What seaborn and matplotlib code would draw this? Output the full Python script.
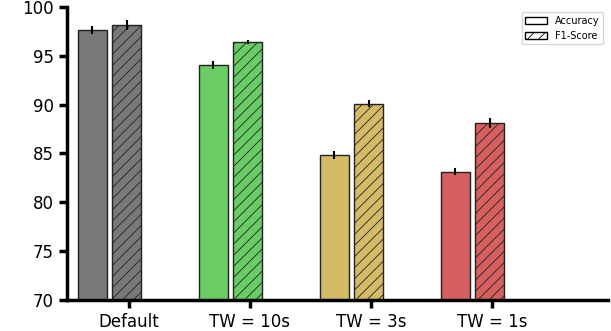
import seaborn as sns
import pandas as pd
import matplotlib.pyplot as plt
import numpy as np
from matplotlib.patches import Patch

settings = ["Default", "TW = 10s", "TW = 3s", "TW = 1s"]
accuracy = [97.65, 94.06, 84.82, 83.14]
accuracy_err = [0.45, 0.4, 0.4, 0.4]
f1_score = [98.18, 96.42, 90.07, 88.12]
f1_err = [0.5, 0.2, 0.35, 0.55]
colors = ['#797979', '#6acc64', '#d5bb67', '#d65f5f']

sns.set_style("ticks")
plt.rcParams['hatch.linewidth'] = 0.6
plt.rcParams['text.color'] = 'black'

df = pd.DataFrame({
    "setting": settings * 2,
    "metric": ["Accuracy"] * 4 + ["F1-Score"] * 4,
    "value": accuracy + f1_score,
})

fig, ax = plt.subplots(figsize=(6.11, 3.31), dpi=100)
sns.barplot(data=df, x="setting", y="value", hue="metric", order=settings,
            hue_order=["Accuracy", "F1-Score"], width=0.57, gap=0.16,
            errorbar=None, legend=False, ax=ax, linewidth=1, edgecolor='#222222')

hatches = ['', '///']
errs = [accuracy_err, f1_err]
vals = [accuracy, f1_score]
bar_sets = list(ax.containers)
for k, cont in enumerate(bar_sets):
    xs = []
    for i, bar in enumerate(cont.patches):
        bar.set_facecolor(colors[i])
        bar.set_hatch(hatches[k])
        xs.append(bar.get_x() + bar.get_width() / 2)
    ax.errorbar(xs, vals[k], yerr=errs[k], fmt='none', ecolor='black',
                elinewidth=1.5, capsize=0, zorder=5)

ax.set_ylim(70, 100)
ax.set_yticks(range(70, 101, 5))
ax.set_xticks(np.arange(4) + 0.16, settings)
ax.set_xlim(-0.35, 4.12)
ax.set_xlabel("")
ax.set_ylabel("")
sns.despine(ax=ax)
for s in ["left", "bottom"]:
    ax.spines[s].set_linewidth(2.5)
    ax.spines[s].set_color('black')
ax.tick_params(width=2.5, length=6, labelsize=12, color='black', labelcolor='black')

handles = [Patch(facecolor='white', edgecolor='black', label='Accuracy'),
           Patch(facecolor='white', edgecolor='black', hatch='///', label='F1-Score')]
ax.legend(handles=handles, loc='upper right', fontsize=7, frameon=True,
          handlelength=2.2, bbox_to_anchor=(1.0, 1.0))

plt.subplots_adjust(left=0.11, right=0.995, bottom=0.094, top=0.979)
plt.savefig("out.png")
